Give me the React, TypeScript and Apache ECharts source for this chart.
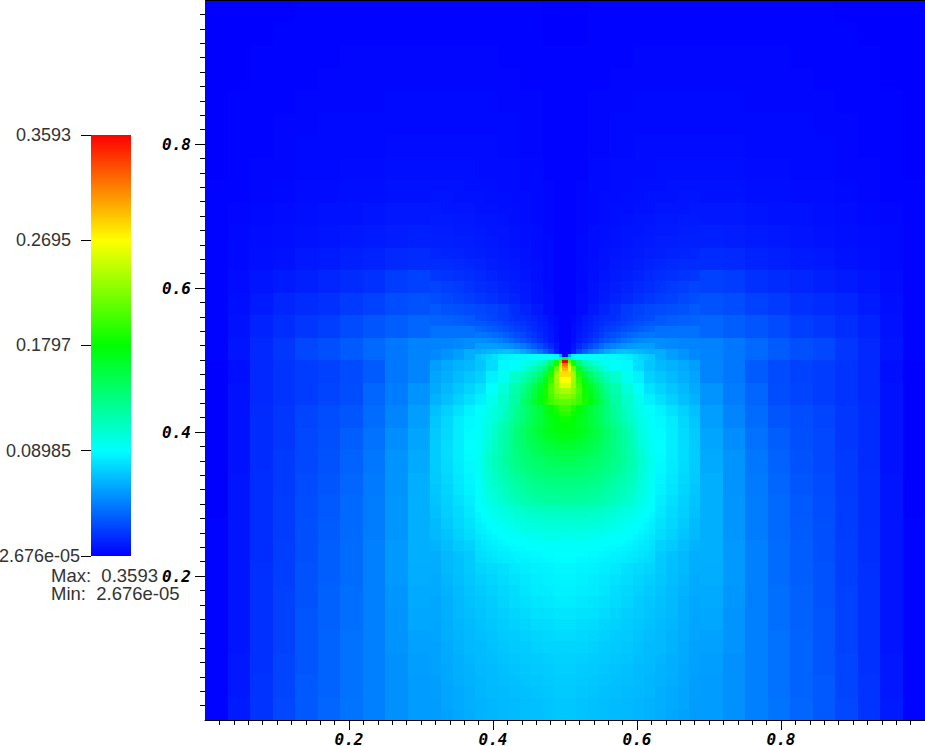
import React, { useEffect, useRef } from "react";
import * as echarts from "echarts";

// Field values are in thousandths. Only the left half is read; the picture is mirror-symmetric about x = 0.5.
// 22.5 px cells, x 0 .. 0.3125, top row first
const coarseLeft = [
  [0,0,0,0,1,1,1,1,1,1],[0,0,0,1,1,1,1,1,1,1],[0,0,1,1,1,1,2,2,2,2],[0,0,1,1,1,2,2,2,2,2],
  [0,1,1,1,2,2,2,2,3,3],[0,1,1,2,2,3,3,3,3,3],[0,1,1,2,3,3,3,3,4,4],[0,1,2,2,3,3,4,4,5,5],
  [1,1,2,3,4,4,5,5,6,6],[1,2,3,4,5,6,6,7,8,8],[1,3,4,5,6,7,8,9,10,11],[1,3,5,6,8,9,11,12,14,15],
  [1,4,7,9,11,13,15,17,21,23],[1,5,9,13,15,17,20,23,27,29],[1,6,12,16,19,22,26,30,33,36],[1,7,14,19,25,28,32,37,42,46],
  [0,5,14,18,21,23,26,32,42,47],[0,6,14,18,21,24,27,36,44,52],[0,6,15,19,24,27,30,38,47,56],[0,6,15,19,25,28,33,40,50,58],
  [0,6,15,20,25,29,35,42,52,60],[0,7,16,20,26,30,36,43,52,62],[0,7,16,21,27,31,37,44,53,62],[1,7,16,21,28,32,37,44,53,62],
  [1,7,16,22,28,33,38,45,54,62],[1,7,17,22,29,33,38,45,54,61],[1,7,17,23,29,34,39,45,53,60],[1,7,17,23,30,34,39,45,52,59],
  [1,7,17,23,30,35,40,45,52,57],[1,8,17,24,30,35,40,45,51,56],[1,8,18,24,31,35,40,45,51,55],[1,9,18,25,31,36,41,45,51,55],
];
// 22.5 px cells, x 0.3125 .. 0.5, y 1 .. 0.75
const coarseCentreTop = [
  [1,1,1,1,1,0],[1,1,1,1,1,0],[2,2,2,1,1,1],[2,2,2,2,1,1],
  [3,3,3,2,2,1],[3,3,3,3,2,1],[4,4,4,3,2,1],[5,5,4,4,3,1],
];
// 11.25 px cells, x 0.3125 .. 0.5, y 0.75 .. 0
const midBand = [
  [6,6,6,5,5,5,4,4,3,3,2,1],[7,7,6,6,6,5,5,4,4,3,2,1],[8,7,7,7,6,6,5,5,4,3,2,1],[9,9,8,8,7,7,6,5,4,3,2,1],
  [10,10,9,9,8,7,7,6,5,4,2,1],[11,11,10,10,9,8,7,6,5,4,3,1],[13,12,12,11,10,9,8,7,6,4,3,1],[15,15,14,13,12,10,9,8,6,5,3,1],
  [19,18,17,16,14,12,10,9,7,5,3,1],[24,22,20,18,16,14,12,10,8,6,3,1],[27,25,23,21,19,17,14,12,9,6,4,1],[31,29,28,26,25,23,20,16,12,8,4,1],
  [35,34,33,31,30,28,25,20,15,9,5,1],[40,40,40,40,40,39,36,31,23,14,6,2],[46,47,48,50,52,53,53,50,38,24,10,2],[48,52,56,62,66,70,74,76,70,50,20,3],
  [56,60,63,65,70,78,88,92,95,105,130,200],[58,62,66,70,74,85,95,108,120,135,170,250],[60,65,70,75,80,90,103,118,128,150,190,250],[63,68,74,79,85,96,108,122,136,165,200,230],
  [68,74,80,86,91,103,118,135,150,167,182,198],[70,76,83,88,92,103,117,133,148,162,175,184],[71,77,84,89,92,102,115,130,144,156,166,172],[72,78,84,90,91,100,112,126,139,150,158,163],
  [72,78,84,89,90,98,109,121,133,143,150,154],[72,77,83,88,89,96,105,116,127,136,142,146],[71,76,82,87,87,93,101,111,121,129,135,138],[70,75,81,86,85,90,97,105,114,122,127,130],
  [69,74,79,84,83,87,93,100,108,115,120,122],[68,73,77,82,80,84,89,95,101,107,111,113],[66,71,76,80,78,81,85,90,95,100,103,105],[65,69,74,78,76,79,82,86,90,93,96,97],
  [63,67,71,74,75,78,81,85,89,92,94,95],[61,65,68,71,73,75,78,81,84,87,89,90],[61,65,68,71,75,77,79,82,84,85,86,87],[60,64,67,70,73,75,78,80,82,84,85,86],
  [60,63,66,69,71,74,76,78,81,83,84,85],[59,62,65,68,70,72,75,77,79,81,82,83],[59,62,65,67,69,71,73,75,77,79,80,81],[58,61,64,66,68,70,72,74,75,77,78,79],
  [58,61,63,65,67,69,71,72,74,75,76,77],[57,60,63,65,66,68,70,71,72,74,75,75],[57,60,62,64,66,67,69,70,71,72,73,74],[57,59,62,63,65,66,68,69,70,71,72,73],
  [56,59,61,63,64,66,67,68,69,70,71,72],[56,58,60,62,64,65,66,67,68,69,70,71],[55,58,60,62,63,64,65,66,67,68,69,70],[55,57,59,61,63,64,65,66,67,68,69,70],
];
// 5.6 px cells, x 0.375 .. 0.4375, y 0.5625 .. 0.5
const wedgeCells = [
  [27,26,25,24,22,20,18,16],[31,30,28,27,25,23,21,19],[36,35,33,31,29,27,24,22],[42,41,40,38,36,33,30,27],
  [50,49,48,46,44,41,37,33],[56,56,56,55,54,52,50,47],[60,62,64,66,68,69,68,64],[70,73,76,80,84,86,87,88],
];
// 5.6 px cells, x 0.375 .. 0.5, y 0.4375 .. 0.21875
const lobeCells = [
  [90,92,96,101,106,113,121,128,136,144,152,160,168,178,188,200],
  [91,93,97,102,107,114,122,129,137,145,152,160,168,176,184,192],
  [91,94,98,103,109,115,123,130,138,146,153,160,167,173,179,184],
  [91,95,99,106,113,120,127,134,141,148,154,160,166,171,175,178],
  [91,95,100,108,115,122,130,137,144,151,157,163,168,172,175,176],
  [92,96,102,109,116,123,130,137,143,150,155,160,165,168,171,172],
  [92,97,103,110,117,124,130,136,142,148,153,157,161,164,167,168],
  [93,98,104,111,117,124,130,135,141,146,150,154,157,160,162,163],
  [93,99,106,112,118,124,130,135,139,143,147,150,153,155,156,157],
  [94,101,108,114,119,125,130,134,138,141,144,146,148,150,151,152],
  [94,100,107,113,118,123,128,132,135,139,141,143,145,146,147,147],
  [94,100,106,112,117,121,126,130,133,136,138,140,141,142,143,143],
  [93,99,105,110,115,119,123,127,130,133,135,137,138,139,139,140],
  [93,98,104,109,113,117,121,124,127,130,132,134,135,136,136,136],
  [92,97,102,107,111,115,118,121,124,127,129,130,131,132,133,133],
  [91,96,101,105,109,112,116,119,121,124,126,127,128,129,129,130],
  [91,95,99,103,107,110,113,116,118,121,122,124,125,125,126,126],
  [90,94,98,101,105,108,111,113,116,118,119,120,121,122,122,123],
  [89,92,95,98,100,103,105,107,109,111,112,113,114,114,114,115],
  [87,90,93,96,98,100,102,104,106,107,108,109,110,110,110,110],
  [86,88,91,93,95,97,99,101,102,104,105,105,106,106,106,106],
  [84,86,89,91,93,94,96,97,99,100,101,102,102,103,103,103],
  [83,85,87,89,91,92,93,95,96,97,98,98,99,99,99,100],
  [81,83,85,87,89,90,91,92,93,94,95,95,96,96,96,96],
  [80,82,84,85,87,88,89,90,90,91,92,92,93,93,93,93],
  [79,81,82,84,85,86,87,88,88,89,90,90,91,91,91,91],
  [78,79,81,82,83,84,85,86,87,87,88,88,89,89,90,90],
  [77,78,79,81,82,83,84,85,85,86,87,87,88,88,89,89],
];
// 5.6 px cells, x 0.4375 .. 0.5, y 0.5625 .. 0.4375
const fineCells = [
  [16,14,12,10,8,5,3,1],[18,16,14,11,9,6,3,1],[21,18,15,12,10,7,4,1],[25,21,18,14,11,8,4,1],
  [30,26,22,17,13,9,5,1],[44,38,32,26,20,14,7,1],[60,54,48,42,33,24,10,1],[88,89,90,90,90,90,88,50],
  [94,97,101,108,118,140,185,300],[100,108,116,126,140,165,215,300],[112,120,130,143,160,190,235,280],[120,129,140,155,172,198,235,268],
  [127,137,150,165,182,205,232,258],[130,142,155,170,185,208,228,238],[136,146,158,172,186,203,218,225],[140,150,162,175,187,200,207,212],
];
// 2.8 px cells next to the peak
const tinyCells = [[60,4],[120,175],[210,359],[250,320],[260,305],[270,295]];

const majorTicks = [0.2, 0.4, 0.6, 0.8];
const minorTicks = [0.02,0.04,0.06,0.08,0.1,0.12,0.14,0.16,0.18,0.22,0.24,0.26,0.28,0.3,0.32,0.34,0.36,0.38,0.42,0.44,0.46,0.48,0.5,0.52,0.54,0.56,0.58,0.62,0.64,0.66,0.68,0.7,0.72,0.74,0.76,0.78,0.82,0.84,0.86,0.88,0.9,0.92,0.94,0.96,0.98];
const barMax = 0.3593;
const barMin = 2.676e-5;
const barTicks = [0.08985, 0.1797, 0.2695, 0.3593];
const rainbow = ["#0000ff", "#00ffff", "#00ff00", "#ffff00", "#ff0000"];

type Cell = [number, number, number, number, number];
function addTier(out: Cell[], rows: number[][], x0: number, yTop: number, size: number) {
  rows.forEach((row, r) => {
    row.forEach((v, c) => {
      const xa = x0 + c * size;
      const xb = xa + size;
      const ya = yTop - r * size;
      const yb = ya - size;
      out.push([xa, ya, xb, yb, v]);
      out.push([1 - xb, ya, 1 - xa, yb, v]);
    });
  });
}

export default function App() {
  const ref = useRef<HTMLDivElement>(null);
  useEffect(() => {
    document.body.style.margin = "0";
    const chart = echarts.init(ref.current!, null, { renderer: "svg" });
    const cells: Cell[] = [];
    addTier(cells, coarseLeft, 0, 1, 1 / 32);
    addTier(cells, coarseCentreTop, 0.3125, 1, 1 / 32);
    addTier(cells, midBand, 0.3125, 0.75, 1 / 64);
    addTier(cells, wedgeCells, 0.375, 0.5625, 1 / 128);
    addTier(cells, lobeCells, 0.375, 0.4375, 1 / 128);
    addTier(cells, fineCells, 0.4375, 0.5625, 1 / 128);
    addTier(cells, tinyCells, 0.4921875, 0.5078125, 1 / 256);

    const labelFont = { fontFamily: "DejaVu Sans Mono", fontWeight: "bold" as const, fontStyle: "italic" as const, fontSize: 16, color: "#000" };
    const barFont = { fontFamily: "Liberation Sans", fontSize: 18, color: "#333" };
    const line = { lineStyle: { color: "#000", width: 1 } };

    chart.setOption({
      animation: false,
      backgroundColor: "#fff",
      grid: [
        { left: 205, top: 0, width: 720, height: 720, outerBoundsMode: "none" },
        { left: 91, top: 135, width: 40, height: 421, outerBoundsMode: "none" },
      ],
      xAxis: [
        { gridIndex: 0, type: "value", min: 0, max: 1, position: "bottom", splitLine: { show: false },
          axisLine: { show: true, onZero: false, ...line },
          axisTick: { show: true, length: 10, customValues: majorTicks, ...line },
          axisLabel: { ...labelFont, margin: 11, customValues: majorTicks, formatter: (v: number) => v.toFixed(1) } },
        { gridIndex: 0, type: "value", min: 0, max: 1, position: "bottom", splitLine: { show: false },
          axisLine: { show: false, onZero: false },
          axisTick: { show: true, length: 5, customValues: minorTicks, ...line },
          axisLabel: { show: false } },
        { gridIndex: 1, type: "category", data: ["bar"], show: false },
      ],
      yAxis: [
        { gridIndex: 0, type: "value", min: 0, max: 1, position: "left", splitLine: { show: false },
          axisLine: { show: true, onZero: false, ...line },
          axisTick: { show: true, length: 10, customValues: majorTicks, ...line },
          axisLabel: { ...labelFont, margin: 14, customValues: majorTicks, formatter: (v: number) => v.toFixed(1) } },
        { gridIndex: 0, type: "value", min: 0, max: 1, position: "left", splitLine: { show: false },
          axisLine: { show: false, onZero: false },
          axisTick: { show: true, length: 5, customValues: minorTicks, ...line },
          axisLabel: { show: false } },
        { gridIndex: 1, type: "value", min: 0, max: barMax, position: "left", splitLine: { show: false },
          axisLine: { show: false, onZero: false },
          axisTick: { show: true, length: 10, customValues: barTicks, ...line },
          axisLabel: { ...barFont, margin: 20, customValues: barTicks, formatter: (v: number) => String(v) } },
        { gridIndex: 1, type: "value", min: 0, max: barMax, position: "left", splitLine: { show: false },
          axisLine: { show: false, onZero: false },
          axisTick: { show: true, length: 10, customValues: [barMin], ...line },
          axisLabel: { ...barFont, margin: 11, customValues: [barMin], formatter: () => "2.676e-05" } },
      ],
      visualMap: { show: false, type: "continuous", seriesIndex: 0, dimension: 4, min: 0, max: barMax * 1000, inRange: { color: rainbow } },
      series: [
        {
          type: "custom",
          xAxisIndex: 0,
          yAxisIndex: 0,
          clip: true,
          silent: true,
          data: cells,
          encode: { x: [0, 2], y: [1, 3] },
          renderItem: (_p: any, api: any) => {
            const a = api.coord([api.value(0), api.value(1)]);
            const b = api.coord([api.value(2), api.value(3)]);
            const x = Math.round(a[0]);
            const y = Math.round(a[1]);
            return {
              type: "rect",
              shape: { x, y, width: Math.round(b[0]) - x, height: Math.round(b[1]) - y },
              style: { fill: api.visual("color"), stroke: null },
            };
          },
        },
        {
          type: "bar",
          xAxisIndex: 2,
          yAxisIndex: 2,
          barWidth: "100%",
          silent: true,
          data: [barMax],
          itemStyle: {
            color: new echarts.graphic.LinearGradient(0, 0, 0, 1, [
              { offset: 0, color: rainbow[4] },
              { offset: 0.25, color: rainbow[3] },
              { offset: 0.5, color: rainbow[2] },
              { offset: 0.75, color: rainbow[1] },
              { offset: 1, color: rainbow[0] },
            ]),
          },
        },
      ],
      graphic: [
        { type: "line", shape: { x1: 205, y1: 0.5, x2: 925, y2: 0.5 }, style: { stroke: "#000", lineWidth: 1 }, z: 10 },
        { type: "text", x: 51, y: 566, style: { text: "Max:  0.3593", font: '18.5px "Liberation Sans"', fill: "#333" }, z: 10 },
        { type: "text", x: 51, y: 584, style: { text: "Min:  2.676e-05", font: '18.5px "Liberation Sans"', fill: "#333" }, z: 10 },
      ],
    });
    return () => chart.dispose();
  }, []);
  return <div ref={ref} style={{ width: 925, height: 746 }} />;
}
